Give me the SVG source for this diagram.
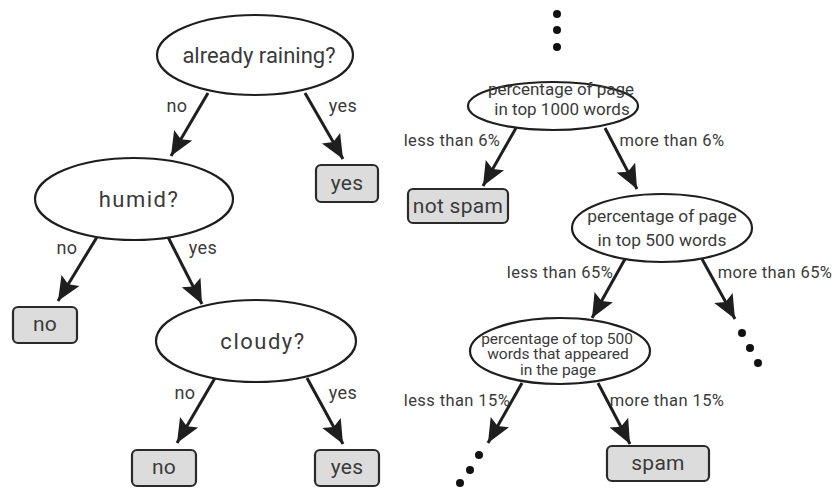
<svg xmlns="http://www.w3.org/2000/svg" width="835" height="488" viewBox="0 0 835 488">
  <style>
    text { font-family: Roboto, "Liberation Sans", sans-serif; fill: #3a3a3a; text-anchor: middle; dominant-baseline: central; }
    .q { fill: #ffffff; stroke: #1e1e1e; stroke-width: 2.2; }
    .leaf { fill: #dcdcdc; stroke: #2a2a2a; stroke-width: 2.2; }
    .edge { stroke: #1e1e1e; stroke-width: 3; fill: none; marker-end: url(#head); }
    .dot { fill: #111111; }
    .big { font-size: 22px; }
    .sp { letter-spacing: 1.5px; }
    .lab { font-size: 18px; letter-spacing: 0.5px; }
    .elab { font-size: 16.5px; letter-spacing: 0.4px; }
    .t1 { font-size: 17px; }
    .t2 { font-size: 17.4px; }
    .t3 { font-size: 15.5px; }
    .lt { font-size: 21px; letter-spacing: 0.3px; }
  </style>
  <defs>
    <marker id="head" markerUnits="userSpaceOnUse" markerWidth="26" markerHeight="26" viewBox="0 0 26 26" refX="24" refY="13" orient="auto">
      <path d="M0,2.5 L24,13 L0,23.5 L4.5,13 Z" fill="#1e1e1e"/>
    </marker>
  </defs>

  <!-- connectors -->
  <g id="connectors">
    <line class="edge" x1="208" y1="93" x2="171" y2="156"/>
    <line class="edge" x1="305" y1="93" x2="343" y2="159"/>
    <line class="edge" x1="97" y1="237" x2="58" y2="301"/>
    <line class="edge" x1="168" y1="237" x2="202" y2="304"/>
    <line class="edge" x1="215" y1="378" x2="177" y2="443"/>
    <line class="edge" x1="307" y1="378" x2="343" y2="444"/>

    <line class="edge" x1="516" y1="128" x2="483" y2="186"/>
    <line class="edge" x1="605" y1="128" x2="637" y2="189"/>
    <line class="edge" x1="625" y1="259" x2="592" y2="318"/>
    <line class="edge" x1="702" y1="259" x2="735" y2="319"/>
    <line class="edge" x1="522" y1="383" x2="488" y2="443"/>
    <line class="edge" x1="598" y1="383" x2="630" y2="444"/>

    <text class="lab" x="177" y="105">no</text>
    <text class="lab" x="343" y="105">yes</text>
    <text class="lab" x="67" y="247">no</text>
    <text class="lab" x="203" y="247">yes</text>
    <text class="lab" x="185" y="392">no</text>
    <text class="lab" x="343" y="392">yes</text>

    <text class="elab" x="452" y="140">less than 6%</text>
    <text class="elab" x="672" y="140">more than 6%</text>
    <text class="elab" x="560" y="272">less than 65%</text>
    <text class="elab" x="775" y="272">more than 65%</text>
    <text class="elab" x="457" y="400">less than 15%</text>
    <text class="elab" x="667" y="400">more than 15%</text>

    <!-- continuation dots -->
    <circle class="dot" cx="557" cy="14" r="4"/>
    <circle class="dot" cx="557" cy="30" r="4"/>
    <circle class="dot" cx="557" cy="47" r="4"/>
    <circle class="dot" cx="742" cy="333" r="4"/>
    <circle class="dot" cx="750" cy="348" r="4"/>
    <circle class="dot" cx="758" cy="363" r="4"/>
    <circle class="dot" cx="479" cy="455" r="4"/>
    <circle class="dot" cx="470" cy="470" r="4"/>
    <circle class="dot" cx="460" cy="483" r="4"/>
  </g>

  <!-- weather tree -->
  <g id="q-raining">
    <ellipse class="q" cx="255" cy="55" rx="98" ry="40"/>
    <text class="big" x="259" y="55">already raining?</text>
  </g>
  <g id="leaf-yes-1">
    <rect class="leaf" x="316" y="165" width="62" height="37" rx="5"/>
    <text class="lt" x="347" y="183">yes</text>
  </g>
  <g id="q-humid">
    <ellipse class="q" cx="134" cy="199" rx="99" ry="41"/>
    <text class="big sp" x="139" y="199">humid?</text>
  </g>
  <g id="leaf-no-1">
    <rect class="leaf" x="13" y="307" width="64" height="36" rx="5"/>
    <text class="lt" x="45" y="324">no</text>
  </g>
  <g id="q-cloudy">
    <ellipse class="q" cx="256" cy="341" rx="100" ry="41"/>
    <text class="big sp" x="263" y="341">cloudy?</text>
  </g>
  <g id="leaf-no-2">
    <rect class="leaf" x="132" y="450" width="64" height="36" rx="5"/>
    <text class="lt" x="164" y="467">no</text>
  </g>
  <g id="leaf-yes-2">
    <rect class="leaf" x="315" y="450" width="64" height="36" rx="5"/>
    <text class="lt" x="347" y="467">yes</text>
  </g>

  <!-- spam tree -->
  <g id="q-top1000">
    <ellipse class="q" cx="553" cy="106" rx="85" ry="24"/>
    <text class="t1" x="561" y="89">percentage of page</text>
    <text class="t1" x="562" y="109">in top 1000 words</text>
  </g>
  <g id="leaf-notspam">
    <rect class="leaf" x="408" y="189" width="100" height="34" rx="5"/>
    <text class="lt" x="458" y="206">not spam</text>
  </g>
  <g id="q-top500">
    <ellipse class="q" cx="662" cy="228" rx="90" ry="34"/>
    <text class="t2" x="662" y="216">percentage of page</text>
    <text class="t2" x="662" y="240">in top 500 words</text>
  </g>
  <g id="q-appeared">
    <ellipse class="q" cx="560" cy="351" rx="90" ry="33"/>
    <text class="t3" x="557" y="338.5">percentage of top 500</text>
    <text class="t3" x="558" y="354">words that appeared</text>
    <text class="t3" x="558" y="369.5">in the page</text>
  </g>
  <g id="leaf-spam">
    <rect class="leaf" x="607" y="446" width="102" height="35" rx="5"/>
    <text class="lt" x="658" y="463">spam</text>
  </g>
</svg>
